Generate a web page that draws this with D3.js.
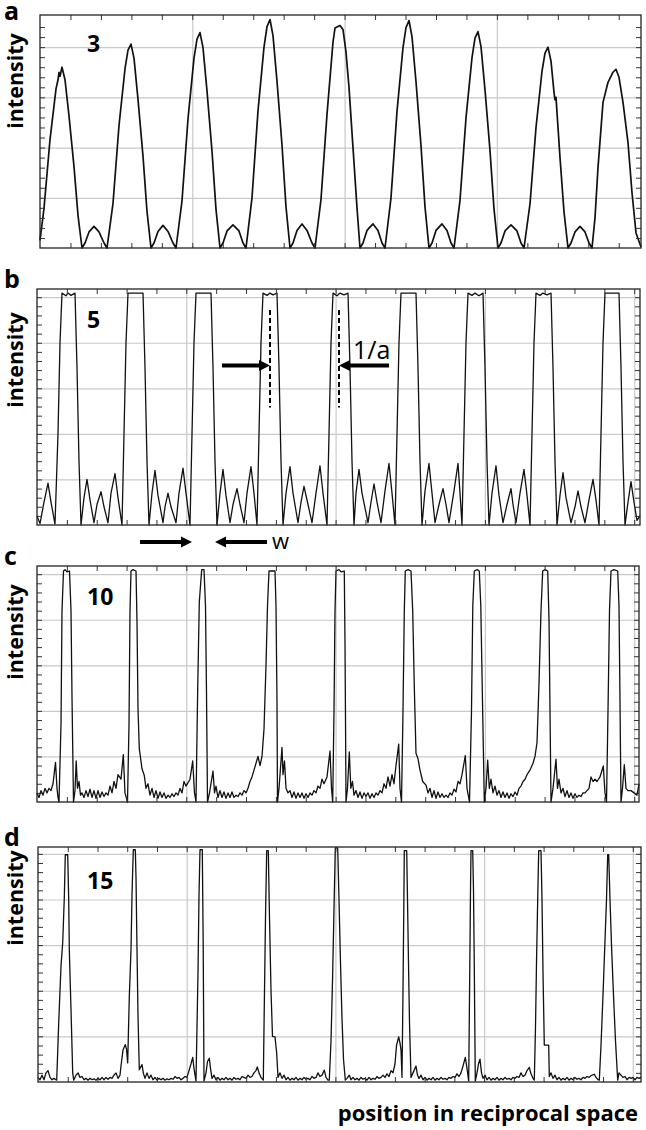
<!DOCTYPE html>
<html>
<head>
<meta charset="utf-8">
<script src="https://cdn.jsdelivr.net/npm/d3@7"></script>
<style>
  body { margin: 0; background: #fff; }
  text { font-family: "Open Sans", "Noto Sans", sans-serif; }
</style>
</head>
<body>
<svg width="646" height="1130"></svg>
<script>
// [position, intensity] (position in arbitrary units, intensity in grid units)
var intensityA = [
  [0,0.15],[4,0.79],[10,2.16],[16,3.17],[18,3.35],[19,3.5],[20,3.42],[22,3.6],[25,3.35],[29,2.63],[34,1.62],[38,0.65],[42,0],
  [45,0.1],[49,0.32],[54,0.43],[59,0.32],[64,0.1],[67,0],
  [73,0.89],[79,2.44],[85,3.57],[88,3.94],[91,4.06],[94,3.78],[98,2.96],[103,1.83],[107,0.73],[111,0],
  [114,0.1],[118,0.33],[123,0.45],[128,0.33],[133,0.1],[136,0],
  [142,0.94],[148,2.57],[154,3.78],[157,4.16],[160,4.29],[163,3.99],[167,3.13],[172,1.93],[176,0.77],[180,0],
  [183,0.1],[187,0.34],[193,0.46],[199,0.34],[203,0.1],[206,0],
  [212,1.0],[218,2.73],[224,4.0],[227,4.41],[230,4.55],[233,4.23],[237,3.32],[242,2.05],[246,0.82],[250,0],
  [253,0.1],[257,0.35],[262,0.48],[267,0.35],[272,0.1],[275,0],
  [281,0.97],[287,2.66],[293,4.1],[295,4.38],[300,4.43],[303,4.35],[306,3.9],[309,3.2],[313,2.0],[317,0.8],[320,0],
  [323,0.1],[327,0.35],[333,0.48],[338,0.35],[342,0.1],[345,0],
  [351,1.0],[357,2.72],[363,3.99],[366,4.39],[369,4.53],[372,4.21],[376,3.31],[381,2.04],[385,0.82],[389,0],
  [392,0.1],[396,0.35],[402,0.48],[407,0.35],[411,0.1],[414,0],
  [420,0.95],[426,2.59],[432,3.79],[435,4.18],[438,4.31],[441,4.01],[445,3.15],[450,1.94],[454,0.78],[458,0],
  [461,0.1],[465,0.34],[471,0.46],[477,0.34],[481,0.1],[484,0],
  [490,0.88],[496,2.4],[502,3.52],[505,3.88],[508,4.0],[511,3.72],[514,3.1],[515,2.95],[516,3.0],[520,1.8],[524,0.72],[528,0],
  [531,0.1],[535,0.32],[540,0.43],[545,0.32],[549,0.1],[552,0],
  [555,0.6],[558,1.6],[563,2.9],[568,3.3],[573,3.5],[576,3.56],[579,3.4],[583,2.9],[588,2.1],[592,1.1],[596,0.3],[601,0.02]
];

var intensityB = [
  [0,0.2],[3,0.03],[7,0.5],[11,0.92],[14,0.5],[18,0.02],
  [21,2.0],[23,4.0],[25,5.09],[29,5.03],[31,5.09],[34,5.04],[38,5.09],[40,3.45],[42,1.4],[44,0],
  [47,0.6],[50,1.0],[53,0.55],[57,0.05],[60,0.45],[64,0.73],[67,0.4],[71,0.05],[74,0.7],[78,1.13],[81,0.6],[85,0],
  [87,2.0],[89,4.0],[91,5.09],[106,5.09],[108,3.45],[110,1.4],[112,0],
  [115,0.7],[118,1.2],[121,0.65],[126,0.05],[128,0.4],[131,0.7],[134,0.4],[139,0.05],[142,0.7],[146,1.25],[149,0.7],[153,0],
  [155,2.0],[157,4.0],[159,5.09],[174,5.09],[176,3.45],[178,1.4],[180,0],
  [183,0.7],[186,1.22],[189,0.65],[193,0.05],[196,0.45],[200,0.8],[203,0.45],[207,0.05],[210,0.7],[214,1.28],[217,0.7],[220,0],
  [222,2.0],[224,4.0],[226,5.09],[230,5.04],[233,5.09],[236,5.05],[240,5.09],[242,3.45],[244,1.4],[246,0],
  [249,0.7],[253,1.28],[256,0.7],[261,0.05],[264,0.5],[267,0.85],[271,0.45],[275,0.05],[279,0.7],[283,1.3],[286,0.7],[290,0],
  [292,2.0],[294,4.0],[296,5.09],[300,5.03],[303,5.09],[307,5.05],[311,5.09],[313,3.45],[315,1.4],[317,0],
  [319,0.7],[322,1.22],[325,0.7],[331,0.05],[334,0.5],[337,0.9],[340,0.5],[344,0.05],[348,0.75],[352,1.35],[355,0.7],[358,0],
  [360,2.0],[362,4.0],[364,5.09],[379,5.09],[381,3.45],[383,1.4],[385,0],
  [388,0.75],[392,1.35],[395,0.7],[398,0.05],[402,0.45],[406,0.8],[409,0.45],[412,0.05],[417,0.75],[421,1.35],[423,0.7],[425,0],
  [427,2.0],[429,4.0],[431,5.09],[435,5.04],[438,5.09],[442,5.03],[446,5.09],[448,3.45],[450,1.4],[452,0],
  [455,0.7],[459,1.3],[462,0.65],[466,0.05],[470,0.45],[474,0.8],[476,0.45],[479,0.05],[483,0.7],[487,1.22],[490,0.65],[493,0],
  [495,2.0],[497,4.0],[499,5.09],[503,5.04],[506,5.09],[510,5.05],[514,5.09],[516,3.45],[518,1.4],[520,0],
  [523,0.65],[526,1.15],[529,0.6],[534,0.05],[538,0.4],[541,0.75],[544,0.4],[548,0.05],[552,0.55],[556,1.0],[559,0.55],[562,0],
  [564,2.0],[566,4.0],[568,5.09],[582,5.09],[584,3.45],[586,1.4],[588,0],
  [591,0.5],[594,0.95],[597,0.5],[600,0.1],[603,0.2]
];

var intensityC = [
  [0,0.2],[2,0.1],[4,0.25],[6,0.15],[8,0.3],[10,0.2],[12,0.3],[14,0.25],[16,0.4],[18.5,0.87],[20,0.3],[21,0.1],[22,0],
  [24,1.7],[25,4.2],[26.5,5.07],[28,5.1],[30,5.05],[32.5,5.07],[34,4.2],[35,2.3],[36.5,0],
  [38,0.25],[39.2,0.9],[40.5,0.3],[42,0.45],[43.5,0.15],
  [45,0.2],[47,0.1],[49,0.25],[51,0.12],[53,0.28],[55,0.1],[57,0.25],[59,0.08],[61,0.25],[63,0.1],[65,0.22],[67,0.12],
  [69,0.2],[71,0.15],[73,0.35],[75,0.2],[77,0.45],[79,0.3],[81,0.6],[84,0.5],
  [86.3,1.04],[88,0.2],[90.5,0],[92,1.7],[93,4.2],[94,5.07],[96,5.1],[99,5.07],[100,3.95],[101,2.05],[102.3,1.17],
  [105,0.73],[107.3,0.58],[109,0.3],[111,0.4],[113,0.15],
  [115,0.3],[117,0.1],[119,0.25],[121,0.08],[123,0.22],[125,0.1],[127,0.2],[129,0.08],[131,0.15],[133,0.1],[135,0.18],
  [137,0.12],[139,0.2],[141,0.15],[143,0.3],[145,0.2],[147,0.45],[149,0.35],[153,0.5],
  [155.7,0.9],[157.5,0.2],[159,0],[160.7,2.48],[162.3,4.39],[164.7,5.1],[167,5.1],[168.5,4.3],[169.5,2.4],[170.5,0],
  [172.5,0.2],[176,0.68],[177.5,0.2],[179,0.35],[181,0.1],
  [183,0.25],[185,0.1],[187,0.22],[189,0.08],[191,0.2],[193,0.1],[195,0.22],[197,0.1],[199,0.15],[201,0.12],[203,0.2],
  [205,0.15],[207,0.25],[209,0.2],[211,0.3],[213,0.45],[215,0.55],[217,0.7],[219,0.85],[221,1.0],[223,0.8],[225,1.0],
  [227,1.6],[229,3.0],[230.5,4.3],[232,5.07],[238,5.07],[239,4.3],[240,2.2],[240.5,0],
  [242,0.3],[245,1.2],[246,0.6],[247.5,0.9],[249,0.3],[251,0.2],
  [253,0.25],[255,0.1],[257,0.22],[259,0.08],[261,0.2],[263,0.1],[265,0.2],[267,0.08],[269,0.18],[271,0.1],[273,0.2],
  [275,0.15],[277,0.25],[279,0.2],[281,0.35],[283,0.3],[285,0.5],[287,0.4],[290,0.55],
  [293,1.12],[294.5,0.3],[295.7,0],[297,2.0],[298,4.2],[299,5.07],[302,5.1],[304,5.05],[307.3,5.07],[308,3.5],[308.6,1.5],[309,0],
  [310.5,0.3],[312.3,1.1],[313.8,0.3],[315.5,0.45],[317,0.15],
  [319,0.25],[321,0.1],[323,0.22],[325,0.08],[327,0.2],[329,0.12],[331,0.2],[333,0.08],[335,0.18],[337,0.1],[339,0.2],
  [341,0.15],[343,0.25],[345,0.2],[347,0.4],[349,0.3],[351,0.55],[353,0.35],[355,0.6],[357,0.4],[359,0.8],
  [361.7,1.27],[363,0.3],[364.5,0],[366,2.0],[367.3,4.2],[368.3,5.07],[371,5.1],[374,5.07],[375.7,4.2],[377.3,2.53],[379,1.07],
  [381,0.95],[383,0.7],[385.7,0.45],[389,0.37],[391,0.2],
  [393,0.3],[395,0.1],[397,0.25],[399,0.08],[401,0.22],[403,0.1],[405,0.18],[407,0.1],[409,0.15],[411,0.1],[413,0.2],
  [415,0.15],[417,0.28],[419,0.22],[421,0.45],[423,0.4],[425,0.6],
  [428.3,1.02],[430,0.3],[432.5,0],[434.5,2.0],[435.8,4.3],[437.3,5.07],[440,5.1],[442.3,5.07],[443.8,4.3],[445.5,2.2],[447.3,0],
  [449,0.3],[450.7,0.92],[452.3,0.3],[454,0.5],[456,0.2],
  [458,0.35],[460,0.15],[462,0.25],[464,0.1],[466,0.22],[468,0.1],[470,0.2],[472,0.08],[474,0.18],[476,0.12],[478,0.22],
  [480,0.15],[482,0.3],[484,0.35],[486,0.45],[488,0.5],[490,0.6],[493,0.7],[496,0.85],[498,1.0],
  [500,1.3],[502,2.6],[504,4.2],[505.7,5.07],[508,5.1],[510.7,5.07],[512,4.0],[513,2.0],[514,0],
  [516,0.3],[519,0.94],[520.5,0.3],[522,0.5],[524,0.2],
  [526,0.3],[528,0.12],[530,0.25],[532,0.1],[534,0.2],[536,0.08],[538,0.18],[540,0.1],[542,0.15],[544,0.12],[546,0.2],
  [548,0.2],[550,0.25],[552,0.3],[554,0.55],[556,0.45],[558,0.5],[560,0.45],[563,0.55],
  [566.3,0.79],[568,0.2],[569.5,0],[571,2.0],[572.5,4.2],[574,5.07],[577,5.1],[580.7,5.07],[582,4.3],[583,2.2],[584,0],
  [585.5,0.3],[587.3,0.82],[589,0.3],[591,0.25],[594,0.25],[597,0.2],[600,0.15],[602,0.4]
];

var intensityD = [
  [0,0.1],[2,0.05],[4,0.15],[6,0.05],[8,0.2],[10,0.25],[12,0.1],[14,0.05],[16,0.08],
  [18.7,0.04],[20.7,1.29],[23,2.54],[24.7,3.05],[26.3,4.04],[27.3,4.98],[29.7,4.98],[30.7,4.0],[31.3,2.9],[33,1.59],[34.7,0.2],[35.7,0.04],
  [38,0.15],[40,0.2],[42,0.1],[44,0.12],[46,0.05],[48,0.08],[50,0.04],[52,0.08],[54,0.05],[56,0.07],[58,0.04],[60,0.08],
  [62,0.05],[64,0.1],[66,0.05],[68,0.1],[70,0.06],[72,0.1],[74,0.08],[76,0.15],[78,0.2],[80,0.08],[82,0.15],[83,0.35],
  [85,0.7],[87.3,0.82],[88.5,0.72],[89.7,0.42],[91.3,1.87],[93,2.9],[94,4.1],[95.3,5.09],[97.3,5.09],[98,4.5],[99,2.9],
  [100,1.45],[101.3,0.27],[104,0.38],[105.3,0.2],[107,0.08],
  [109,0.2],[111,0.08],[113,0.15],[115,0.05],[117,0.1],[119,0.04],[121,0.08],[123,0.05],[125,0.08],[127,0.04],[129,0.07],
  [131,0.05],[133,0.08],[135,0.06],[137,0.12],[139,0.08],[141,0.1],[143,0.05],[145,0.08],[147,0.12],[149,0.1],[151,0.25],
  [153,0.4],[154.7,0.54],[156,0.3],[158,0.02],[160,2.4],[161,4.1],[162,5.09],[164.3,5.09],[165.2,3.0],[166,0.02],
  [168,0.2],[169.5,0.45],[171.3,0.52],[172.5,0.3],[174,0.08],
  [176,0.15],[178,0.05],[180,0.1],[182,0.04],[184,0.08],[186,0.05],[188,0.1],[190,0.05],[192,0.08],[194,0.04],[196,0.1],
  [198,0.06],[200,0.08],[202,0.05],[204,0.12],[206,0.1],[208,0.08],[210,0.15],[212,0.1],[214,0.12],[216,0.2],[218,0.25],
  [219.3,0.33],[221,0.2],[223,0.1],[225.3,0.04],
  [226.5,2.0],[227.5,3.6],[228.7,5.07],[230.3,5.07],[231.5,3.6],[233,2.0],[234.5,1.0],[237,0.99],[238.7,0.63],[240,0.1],
  [242,0.2],[244,0.08],
  [246,0.15],[248,0.05],[250,0.1],[252,0.04],[254,0.08],[256,0.05],[258,0.1],[260,0.04],[262,0.08],[264,0.05],[266,0.1],
  [268,0.06],[270,0.08],[272,0.05],[274,0.12],[276,0.08],[278,0.1],[280,0.2],[282,0.12],[284,0.15],[286.3,0.26],[288,0.1],
  [290,0.04],
  [291.3,0.04],[293,0.9],[294.5,2.2],[296,3.8],[297.3,5.13],[299.7,5.13],[301,4.0],[302.5,2.6],[304,1.4],[305.5,0.5],[307.3,0.04],
  [309,0.08],[311.3,0.15],[313,0.05],
  [315,0.1],[317,0.05],[319,0.08],[321,0.04],[323,0.1],[325,0.06],[327,0.08],[329,0.04],[331,0.1],[333,0.05],[335,0.08],
  [337,0.06],[339,0.12],[341,0.08],[343,0.1],[345,0.15],[347,0.1],[349,0.18],[351,0.12],[353,0.25],[355,0.2],[357,0.4],
  [358.5,0.8],[360.7,0.99],[362,0.85],[363,0.7],[364,0.1],
  [365,2.0],[365.8,3.8],[366.3,5.07],[368.7,5.07],[369.5,4.0],[370.5,2.6],[371.5,1.3],[373,0.1],
  [375,0.2],[378,0.35],[379.5,0.15],[381,0.08],
  [383,0.15],[385,0.05],[387,0.1],[389,0.04],[391,0.08],[393,0.05],[395,0.1],[397,0.04],[399,0.08],[401,0.05],[403,0.1],
  [405,0.06],[407,0.08],[409,0.05],[411,0.1],[413,0.08],[415,0.12],[417,0.1],[419,0.18],[421,0.12],[423,0.2],[425,0.35],
  [427.3,0.54],[429,0.3],[430.7,0.02],[431.8,2.5],[432.5,4.2],[433,5.07],[434.7,5.07],[435.5,4.2],[436.3,2.5],[437.3,0.02],
  [439,0.2],[440.5,0.4],[442,0.5],[443.5,0.2],[445,0.08],
  [447,0.15],[449,0.05],[451,0.1],[453,0.04],[455,0.08],[457,0.05],[459,0.1],[461,0.04],[463,0.08],[465,0.05],[467,0.1],
  [469,0.06],[471,0.08],[473,0.05],[475,0.1],[477,0.08],[479,0.12],[481,0.1],[483,0.2],[485,0.12],[487,0.15],[489,0.25],
  [491.3,0.32],[493,0.18],[495,0.08],
  [496.3,0.04],[497.5,1.2],[498.5,2.6],[499.7,4.0],[500.7,5.07],[503,5.07],[504,4.0],[505,2.4],[506.3,0.81],[510.7,0.81],
  [511.3,0.12],[513,0.2],[515,0.08],
  [517,0.15],[519,0.05],[521,0.1],[523,0.04],[525,0.08],[527,0.05],[529,0.1],[531,0.04],[533,0.08],[535,0.05],[537,0.1],
  [539,0.06],[541,0.08],[543,0.05],[545,0.1],[547,0.08],[549,0.12],[551,0.1],[553,0.14],[556.3,0.17],[558,0.1],[560,0.05],
  [561.3,0.04],[563,0.8],[565,1.9],[567,3.1],[568.5,4.0],[569.7,4.98],[570.7,4.98],[572,4.0],[573.5,3.0],[575.5,1.9],
  [577.5,0.9],[579.7,0.04],
  [581,0.2],[583,0.15],[585,0.1],[587,0.12],[589,0.05],[591,0.1],[593,0.08],[595,0.1],[597,0.05],[599,0.1],[601,0.08],[603,0.1]
];

var panelLetters = ["a", "b", "c", "d"];
var slitCounts = ["3", "5", "10", "15"];
var yAxisTitle = "intensity";
var xAxisTitle = "position in reciprocal space";

var svg = d3.select("svg");

// frame boxes and axis extents for each panel
var panels = [
  {data: intensityA, x0: 40, x1: 641, y0: 15,  y1: 248,  xMax: 601, yMax: 4.64, xStep: 152.3, titleY: 81,  numY: 52,  width: 1.7},
  {data: intensityB, x0: 37, x1: 640, y0: 289, y1: 525,  xMax: 603, yMax: 5.18, xStep: 149.3, titleY: 360, numY: 328, width: 1.3},
  {data: intensityC, x0: 37, x1: 639, y0: 566, y1: 802,  xMax: 602, yMax: 5.18, xStep: 149.3, titleY: 632, numY: 605, width: 1.3},
  {data: intensityD, x0: 38, x1: 641, y0: 847, y1: 1082, xMax: 603, yMax: 5.15, xStep: 148.7, titleY: 898, numY: 889, width: 1.3}
];

var scales = [];

panels.forEach(function (p, i) {
  var x = d3.scaleLinear().domain([0, p.xMax]).range([p.x0, p.x1]);
  var y = d3.scaleLinear().domain([0, p.yMax]).range([p.y1, p.y0]);
  scales.push({x: x, y: y});
  var h = p.y1 - p.y0;
  var w = p.x1 - p.x0;

  var xMajor = d3.range(p.xStep, p.xMax - 1, p.xStep);
  var xMinor = d3.range(p.xStep / 5, p.xMax - 1, p.xStep / 5);
  var yMajor = d3.range(1, p.yMax, 1);
  var yMinor = d3.range(0.2, p.yMax - 0.05, 0.2);

  var g = svg.append("g");

  // grid
  var gx = g.append("g")
    .attr("transform", "translate(0," + p.y1 + ")")
    .call(d3.axisBottom(x).tickValues(xMajor).tickSize(-h).tickFormat(""));
  var gy = g.append("g")
    .attr("transform", "translate(" + p.x0 + ",0)")
    .call(d3.axisLeft(y).tickValues(yMajor).tickSize(-w).tickFormat(""));
  [gx, gy].forEach(function (a) {
    a.select(".domain").remove();
    a.selectAll("line").attr("stroke", "#c9c9c9").attr("stroke-width", 1.2);
  });

  // curve
  var line = d3.line()
    .x(function (d) { return x(d[0]); })
    .y(function (d) { return y(d[1]); });
  g.append("path")
    .datum(p.data)
    .attr("d", line)
    .attr("fill", "none")
    .attr("stroke", "#111")
    .attr("stroke-width", p.width)
    .attr("stroke-linejoin", "round");

  // inward ticks on all four sides
  var tickAxes = [
    {ax: d3.axisTop(x).tickValues(xMinor), t: "translate(0," + p.y0 + ")"},
    {ax: d3.axisBottom(x).tickValues(xMinor), t: "translate(0," + p.y1 + ")"},
    {ax: d3.axisLeft(y).tickValues(yMinor), t: "translate(" + p.x0 + ",0)"},
    {ax: d3.axisRight(y).tickValues(yMinor), t: "translate(" + p.x1 + ",0)"}
  ];
  tickAxes.forEach(function (ta) {
    var a = g.append("g")
      .attr("transform", ta.t)
      .call(ta.ax.tickSize(-5).tickFormat(""));
    a.select(".domain").remove();
    a.selectAll("line").attr("stroke", "#333").attr("stroke-width", 1);
  });

  // frame
  g.append("rect")
    .attr("x", p.x0).attr("y", p.y0)
    .attr("width", w).attr("height", h)
    .attr("fill", "none")
    .attr("stroke", "#222")
    .attr("stroke-width", 1.3);

  // labels
  g.append("text")
    .attr("x", 4).attr("y", p.y0 + (i === 0 ? 5 : -1))
    .attr("font-size", 25).attr("font-weight", 700)
    .text(panelLetters[i]);
  g.append("text")
    .attr("transform", "translate(23," + p.titleY + ") rotate(-90)")
    .attr("text-anchor", "middle")
    .attr("font-size", 21.5).attr("font-weight", 700)
    .text(yAxisTitle);
  g.append("text")
    .attr("x", 87).attr("y", p.numY)
    .attr("font-size", 23).attr("font-weight", 700)
    .text(slitCounts[i]);
});

svg.append("text")
  .attr("x", 638).attr("y", 1121)
  .attr("text-anchor", "end")
  .attr("font-size", 22).attr("font-weight", 700)
  .text(xAxisTitle);

// annotations in panel b
function arrow(x1, x2, yy) {
  var dir = x2 > x1 ? 1 : -1;
  var head = 11;
  svg.append("line")
    .attr("x1", x1).attr("y1", yy)
    .attr("x2", x2 - dir * head + dir).attr("y2", yy)
    .attr("stroke", "#000").attr("stroke-width", 4);
  svg.append("path")
    .attr("d", "M" + x2 + "," + yy + "L" + (x2 - dir * head) + "," + (yy - 5.5) +
               "L" + (x2 - dir * head) + "," + (yy + 5.5) + "Z")
    .attr("fill", "#000");
}

var sb = scales[1];
var peakMarks = [233, 302];
peakMarks.forEach(function (m) {
  svg.append("line")
    .attr("x1", sb.x(m)).attr("x2", sb.x(m))
    .attr("y1", sb.y(4.72)).attr("y2", sb.y(2.58))
    .attr("stroke", "#000").attr("stroke-width", 2)
    .attr("stroke-dasharray", "5,3");
});
arrow(sb.x(185), sb.x(peakMarks[0]), sb.y(3.5));
arrow(sb.x(352), sb.x(peakMarks[1]), sb.y(3.5));
svg.append("text")
  .attr("x", sb.x(316)).attr("y", sb.y(3.65))
  .attr("font-size", 25)
  .text("1/a");

// peak width marker under panel b
arrow(sb.x(103), sb.x(155), 542);
arrow(sb.x(230), sb.x(178), 542);
svg.append("text")
  .attr("x", sb.x(235)).attr("y", 549)
  .attr("font-size", 22)
  .text("w");
</script>
</body>
</html>
